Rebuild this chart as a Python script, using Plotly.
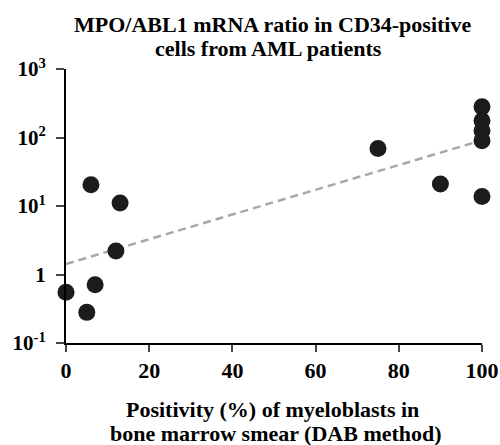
import numpy as np
import plotly.graph_objects as go

# Data
positivity = [0, 5, 6, 7, 12, 13, 75, 90, 100, 100, 100, 100, 100]
mpo_ratio = [0.55, 0.28, 20.4, 0.71, 2.2, 11.1, 69, 21, 13.8, 280, 175, 125, 90]

y_tickvals = [0.1, 1, 10, 100, 1000]
y_ticktext = ["10<sup>-1</sup>", "1", "10<sup>1</sup>", "10<sup>2</sup>", "10<sup>3</sup>"]
x_tickvals = [0, 20, 40, 60, 80, 100]

title_lines = ["MPO/ABL1 mRNA ratio in CD34-positive", "cells from AML patients"]
xtitle_lines = ["Positivity (%) of myeloblasts in", "bone marrow smear (DAB method)"]

# exponential (log-linear) trend line fitted to the data
slope, intercept = np.polyfit(positivity, np.log10(mpo_ratio), 1)
fit_x = np.array([min(positivity), max(positivity) - 2])
fit_y = 10 ** (intercept + slope * fit_x)

FONT = "Liberation Serif"

fig = go.Figure()
fig.add_trace(go.Scatter(
    x=fit_x, y=fit_y, mode="lines",
    line=dict(color="#a8a8a8", width=2.5, dash="8px,5px"),
    hoverinfo="skip", showlegend=False,
))
fig.add_trace(go.Scatter(
    x=positivity, y=mpo_ratio, mode="markers",
    marker=dict(size=17, color="#1c1c1c", line=dict(width=0)),
    cliponaxis=False, showlegend=False,
))

annots = []
for txt, x, y in zip(title_lines, [0.4964, 0.4856], [1.1642, 1.0766]):
    annots.append(dict(text=txt, xref="paper", yref="paper", x=x, y=y,
                       xanchor="center", yanchor="middle", showarrow=False,
                       font=dict(family=FONT, size=22, color="black", weight="bold")))
for txt, x, y in zip(xtitle_lines, [0.4964, 0.5048], [-0.2409, -0.3285]):
    annots.append(dict(text=txt, xref="paper", yref="paper", x=x, y=y,
                       xanchor="center", yanchor="middle", showarrow=False,
                       font=dict(family=FONT, size=22, color="black", weight="bold")))

fig.update_layout(
    width=500, height=445,
    paper_bgcolor="white", plot_bgcolor="white",
    margin=dict(l=66, r=18, t=69, b=102),
    font=dict(family=FONT, color="black", size=20, weight="bold"),
    annotations=annots,
    xaxis=dict(
        range=[0, 100], tickvals=x_tickvals, ticks="outside", ticklen=7,
        tickwidth=2, showline=True, linecolor="black", linewidth=2,
        showgrid=False, zeroline=False, automargin=False,
        tickfont=dict(family=FONT, size=22, weight="bold"),
        ticklabelstandoff=0,
    ),
    yaxis=dict(
        type="log", range=[-1, 3], tickvals=y_tickvals, ticktext=y_ticktext,
        ticks="outside", ticklen=8, tickwidth=2, showline=True,
        linecolor="black", linewidth=2, showgrid=False, zeroline=False,
        automargin=False,
        tickfont=dict(family=FONT, size=21, weight="bold"),
        ticklabelstandoff=6,
    ),
)

fig.write_html("out.html", config={"displayModeBar": False},
               post_script="document.body.style.margin='0';document.body.style.overflow='hidden';")
